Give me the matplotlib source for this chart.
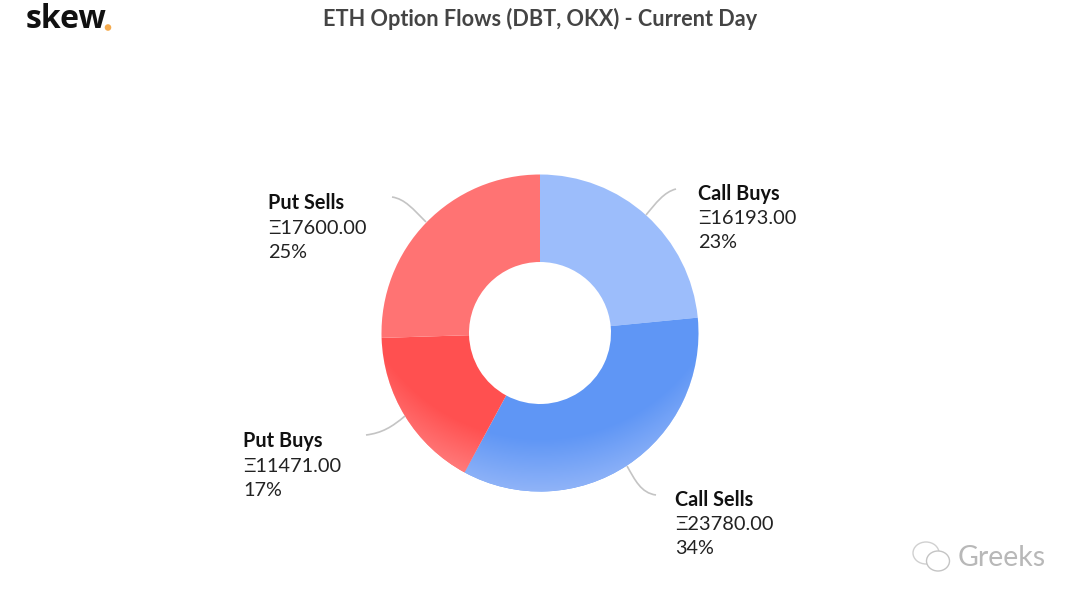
import numpy as np
import matplotlib
matplotlib.use("Agg")
import matplotlib.pyplot as plt
from matplotlib.patches import Circle, Ellipse, PathPatch
from matplotlib.path import Path

categories = ["Call Buys", "Call Sells", "Put Buys", "Put Sells"]
values = [16193.00, 23780.00, 11471.00, 17600.00]
percents = [23, 34, 17, 25]
colors = ["#9cbdfb", "#5f96f5", "#ff5050", "#ff7373"]
fade_colors = [None, "#8fb3f8", "#ff8080", None]

W, H = 1080, 603
plt.rcParams['font.family'] = ['Lato', 'DejaVu Sans']


def py(y):
    # y measured from the top of the image
    return H - y


fig = plt.figure(figsize=(W / 100, H / 100), dpi=100)
ax = fig.add_axes([0, 0, 1, 1])
ax.set_xlim(0, W)
ax.set_ylim(0, H)
ax.axis('off')

cx, cy, radius = 540, py(333), 158.5
wedges, _ = ax.pie(values, colors=colors, startangle=90, counterclock=False,
                   center=(cx, cy), radius=radius, frame=False,
                   wedgeprops=dict(width=radius - 71, linewidth=0))
ax.set_xlim(0, W)
ax.set_ylim(0, H)
ax.set_aspect('auto')

# lighter band towards the bottom of the ring
xx, yy = np.meshgrid(np.arange(370, 710), np.arange(170, 500))
dist = np.hypot(xx - 540, yy - 250)
alpha = np.clip((dist - 188) / 52, 0, 1)
for wedge, fade in zip(wedges, fade_colors):
    if fade is None:
        continue
    rgba = np.zeros(xx.shape + (4,))
    rgba[..., :3] = matplotlib.colors.to_rgb(fade)
    rgba[..., 3] = alpha
    im = ax.imshow(rgba, extent=(370, 710, py(500), py(170)), origin='upper',
                   aspect='auto', interpolation='bilinear', zorder=3)
    im.set_clip_path(wedge)
ax.set_xlim(0, W)
ax.set_ylim(0, H)

# leader lines
leaders = [
    [(646, 215), (656, 203), (664, 192), (676, 189)],
    [(627, 466), (635, 480), (641, 493), (656, 495)],
    [(405, 416), (392, 427), (382, 433), (366, 435)],
    [(426, 222), (413, 209), (405, 199), (392, 197)],
]
for pts in leaders:
    path = Path([(x, py(y)) for x, y in pts], [Path.MOVETO, Path.CURVE4, Path.CURVE4, Path.CURVE4])
    ax.add_patch(PathPatch(path, fc='none', ec='#c4c4c4', lw=1.2, zorder=2))

# labels
label_pos = [(698.5, 194), (675, 500), (243, 441), (268, 203)]
for (x, y), name, val, pct in zip(label_pos, categories, values, percents):
    ax.text(x, py(y), name, fontsize=14.3, fontweight='bold', color='#111111', va='center', ha='left')
    ax.text(x, py(y + 25), "Ξ%.2f" % val, fontsize=14.4, color='#222222', va='center', ha='left')
    ax.text(x, py(y + 49), "%d%%" % pct, fontsize=14.3, color='#222222', va='center', ha='left')

ax.text(540, py(19), "ETH Option Flows (DBT, OKX) - Current Day", fontsize=15.6,
        fontweight='bold', color='#444444', ha='center', va='center')

# logo
ax.text(26, py(19), "skew", fontsize=23, fontweight='bold', color='#111111',
        ha='left', va='center', family=['Open Sans', 'DejaVu Sans'])
ax.add_patch(Circle((108, py(27.5)), 3.3, fc='#f5ab4e', ec='none'))

# watermark
ax.text(958, py(558), "Greeks", fontsize=20.5, color='#b8b8b8', ha='left', va='center')
ax.add_patch(Ellipse((926, py(553)), 26, 22, fc='white', ec='#d0d0d0', lw=1))
ax.add_patch(Ellipse((938, py(561)), 23, 20, fc='white', ec='#c4c4c4', lw=1))

fig.savefig("out.png", dpi=100)
